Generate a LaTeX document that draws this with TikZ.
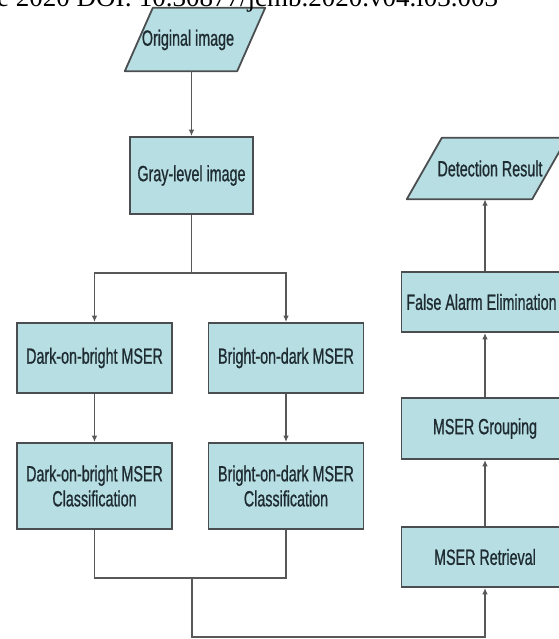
\documentclass[tikz,border=0pt]{standalone}
\usepackage{fontspec}
\setmainfont{Liberation Sans}[FakeStretch=0.65,FakeBold=0.8]
\newfontfamily\headfont{Liberation Serif}
\usetikzlibrary{arrows.meta,backgrounds}
\definecolor{boxfill}{RGB}{183,222,227}
\definecolor{boxline}{RGB}{74,78,80}
\definecolor{wirecolor}{RGB}{88,88,88}
\definecolor{labelcolor}{RGB}{30,44,50}

\begin{document}
\begin{tikzpicture}[x=1pt,y=-1pt,
        procbox/.style={draw=boxline, fill=boxfill, line width=1.8pt, text=labelcolor, font=\fontsize{22}{25}\selectfont, align=center, inner sep=0pt},
        iotext/.style={text=labelcolor, font=\fontsize{22}{25}\selectfont, inner sep=0pt},
        iobox/.style={draw=boxline, fill=boxfill, line width=1.8pt, line join=round},
        wire/.style={draw=wirecolor, line width=1.3pt},
        flow/.style={wire, -{Latex[length=6.5pt,width=5.5pt]}}]
\useasboundingbox (0,0) rectangle (558,639);
\node[procbox, minimum width=123, minimum height=77] (gray) at (191.5,175.5) {Gray-level image};
\node[procbox, minimum width=155, minimum height=70] (dobm) at (94.5,358) {Dark-on-bright MSER};
\node[procbox, minimum width=155, minimum height=70] (bodm) at (286,358) {Bright-on-dark MSER};
\node[procbox, minimum width=155, minimum height=86] (dobc) at (94.5,486) {Dark-on-bright MSER\\Classification};
\node[procbox, minimum width=155, minimum height=86] (bodc) at (286,486) {Bright-on-dark MSER\\Classification};
\node[procbox, minimum width=167, minimum height=60] (ret) at (485,557) {MSER Retrieval};
\node[procbox, minimum width=167, minimum height=61] (grp) at (485,428.5) {MSER Grouping};
\node[procbox, minimum width=167, minimum height=60] (fa) at (485,302) {};
\node[iotext] (fatext) at (481.5,302) {False Alarm Elimination};
\node[iotext, minimum width=112, minimum height=62] (orig) at (188,40) {Original image};
\node[iotext, minimum width=125, minimum height=61] (det) at (490,168.5) {Detection Result};
\begin{scope}[on background layer]
\draw[iobox] ([xshift=21pt,yshift=1pt]orig.north west) -- ([xshift=21pt,yshift=1pt]orig.north east) -- ([xshift=-7pt]orig.south east) -- ([xshift=-7pt]orig.south west) -- cycle;
\draw[iobox] ([xshift=14.5pt]det.north west) -- ([xshift=14.5pt]det.north east) -- ([xshift=-20.5pt]det.south east) -- ([xshift=-20.5pt]det.south west) -- cycle;
\end{scope}
\node[anchor=base west, inner sep=0pt, font=\headfont\fontsize{27}{30}\selectfont] (head) at (-3,7) {e 2020 DOI: 10.30877/jcmb.2020.v04.i03.003};
\coordinate (split) at (191.5,273);
\coordinate (merge) at (192,578);
\coordinate (bottom) at (192,637);
\draw[flow] (gray.north |- orig.south) -- (gray.north);
\draw[wire] (gray.south) -- (split);
\draw[flow] (split) -| (dobm.north);
\draw[flow] (split) -| (bodm.north);
\draw[flow] (dobm) -- (dobc);
\draw[flow] (bodm) -- (bodc);
\draw[wire] (dobc.south) |- (merge) -| (bodc.south);
\draw[flow] (merge) -- (bottom) -| (ret.south);
\draw[flow] (ret) -- (grp);
\draw[flow] (grp) -- (fa);
\draw[flow] (fa.north) -- (fa.north |- det.south);
\end{tikzpicture}
\end{document}
